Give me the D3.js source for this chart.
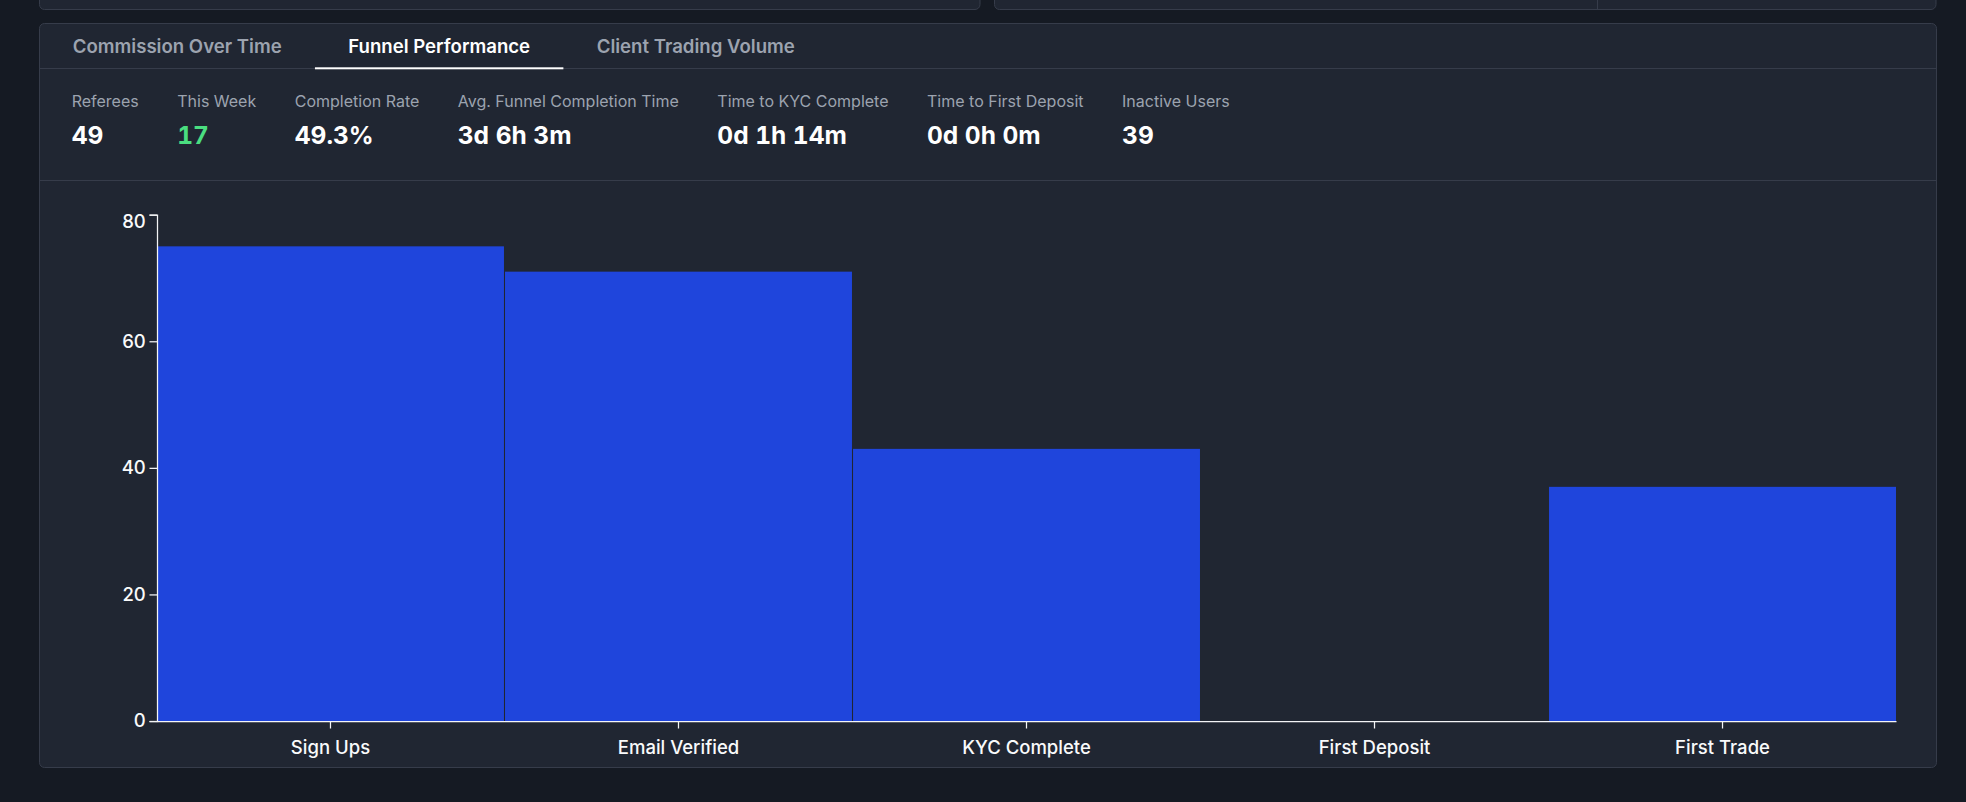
<!DOCTYPE html>
<html lang="en">
<head>
  <meta charset="UTF-8">
  <title>Funnel Performance</title>
  <style>
  html, body {
    margin: 0;
    padding: 0;
    background: #151a23;
    overflow: hidden;
  }
  svg text {
    font-family: Inter, "Noto Sans", sans-serif;
  }
  .stat-value {
    font-feature-settings: "tnum";
  }
  .axis path, .axis line {
    stroke: #f3f4f6;
    stroke-width: 1.25;
  }
  .axis text {
    fill: #f9fafb;
    font-size: 18.5px;
    font-weight: 500;
  }
  </style>
  <script src="https://cdn.jsdelivr.net/npm/d3@7"></script>
</head>
<body>
<div id="chart"></div>
<script>
var tabs = ["Commission Over Time", "Funnel Performance", "Client Trading Volume"];
var activeTab = 1;

var statLabels = ["Referees", "This Week", "Completion Rate", "Avg. Funnel Completion Time",
                  "Time to KYC Complete", "Time to First Deposit", "Inactive Users"];
var statValues = ["49", "17", "49.3%", "3d 6h 3m", "0d 1h 14m", "0d 0h 0m", "39"];

var stages = ["Sign Ups", "Email Verified", "KYC Complete", "First Deposit", "First Trade"];
var counts = [75, 71, 43, 0, 37];
var yTicks = [0, 20, 40, 60, 80];

var W = 1966, H = 802;
var panelBg = "#202632", border = "#363c4a";

var svg = d3.select("#chart").append("svg")
    .attr("width", W)
    .attr("height", H);

// the two panels above, cut off by the top of the window
svg.append("rect")
    .attr("x", 39.5).attr("y", -20).attr("width", 940.5).attr("height", 29.5)
    .attr("rx", 5).attr("fill", panelBg).attr("stroke", border);
svg.append("rect")
    .attr("x", 994.5).attr("y", -20).attr("width", 941.5).attr("height", 29.5)
    .attr("rx", 5).attr("fill", panelBg).attr("stroke", border);
svg.append("line")
    .attr("x1", 1597.5).attr("x2", 1597.5).attr("y1", 0).attr("y2", 9.5)
    .attr("stroke", border);

// main panel
var px = 39.5, py = 23.5, pw = 1897, ph = 744;
svg.append("rect")
    .attr("x", px).attr("y", py).attr("width", pw).attr("height", ph)
    .attr("rx", 5).attr("fill", panelBg).attr("stroke", border);

svg.append("line")
    .attr("x1", px).attr("x2", px + pw).attr("y1", 68.5).attr("y2", 68.5)
    .attr("stroke", border);
svg.append("line")
    .attr("x1", px).attr("x2", px + pw).attr("y1", 180.5).attr("y2", 180.5)
    .attr("stroke", border);

// tabs
var tabPad = 33.3;
var tx = px;
tabs.forEach(function(t, i) {
  var txt = svg.append("text")
      .attr("x", tx + tabPad)
      .attr("y", 53.3)
      .attr("font-size", "18.6px")
      .attr("font-weight", 600)
      .attr("fill", i === activeTab ? "#ffffff" : "#9ca3af")
      .text(t);
  var w = txt.node().getComputedTextLength();
  if (i === activeTab) {
    svg.append("rect")
        .attr("x", tx).attr("y", 67.3)
        .attr("width", w + 2 * tabPad).attr("height", 2)
        .attr("fill", "#ffffff");
  }
  tx += w + 2 * tabPad;
});

// stats
var sx = 71.7, statGap = 38.5;
statLabels.forEach(function(l, i) {
  var lab = svg.append("text")
      .attr("x", sx).attr("y", 107.3)
      .attr("font-size", "16px")
      .attr("fill", "#9ca3af")
      .text(l);
  var val = svg.append("text")
      .attr("class", "stat-value")
      .attr("x", sx).attr("y", 143.7)
      .attr("font-size", "24.5px")
      .attr("font-weight", 700)
      .attr("fill", i === 1 ? "#4ade80" : "#ffffff")
      .text(statValues[i]);
  var w = Math.max(lab.node().getComputedTextLength(), val.node().getComputedTextLength());
  sx += w + statGap;
});

// bar chart
var margin = {top: 214.7, right: 1966 - 1896, bottom: 802 - 721, left: 157};
var width = W - margin.left - margin.right;
var height = H - margin.top - margin.bottom;

var g = svg.append("g")
    .attr("transform", "translate(" + margin.left + "," + margin.top + ")");

var x = d3.scaleBand()
    .domain(stages)
    .range([0, width])
    .paddingInner(0.003);

var y = d3.scaleLinear()
    .domain([0, 80])
    .range([height, 0]);

g.selectAll(".bar")
    .data(stages)
    .enter()
    .append("rect")
    .attr("class", "bar")
    .attr("x", function(d) { return x(d); })
    .attr("y", function(d, i) { return y(counts[i]); })
    .attr("width", x.bandwidth())
    .attr("height", function(d, i) { return height - y(counts[i]); })
    .attr("fill", "#1f45dc");

var yAxis = g.append("g")
    .attr("class", "axis")
    .call(d3.axisLeft(y).tickValues(yTicks).tickSize(7.5).tickSizeOuter(7.5).tickPadding(3.75));

// top label sits inside the plot, like the original
yAxis.selectAll(".tick text")
    .filter(function(d) { return d === 80; })
    .attr("dy", "0.32em")
    .attr("y", 7.3);

var xAxis = g.append("g")
    .attr("class", "axis")
    .attr("transform", "translate(0," + height + ")")
    .call(d3.axisBottom(x).tickSize(7.5).tickSizeOuter(0).tickPadding(12));
</script>
</body>
</html>
